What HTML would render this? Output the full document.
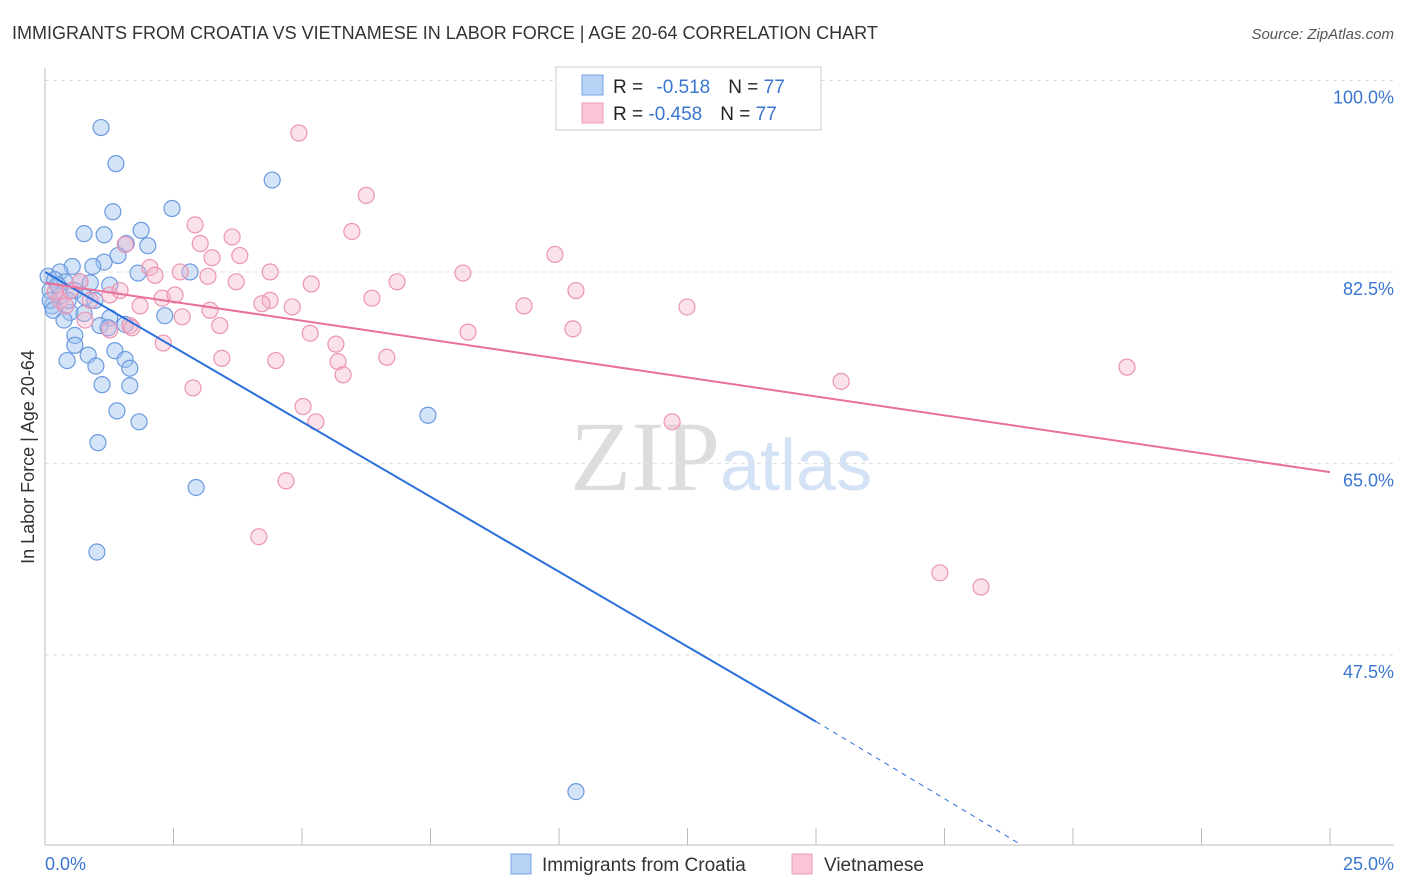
<!DOCTYPE html>
<html><head><meta charset="utf-8"><style>
body{margin:0;background:#fff;font-family:"Liberation Sans",sans-serif}
</style></head><body>
<svg id="c" width="1406" height="892" style="display:block">
<text x="12" y="39" font-size="18" fill="#333">IMMIGRANTS FROM CROATIA VS VIETNAMESE IN LABOR FORCE | AGE 20-64 CORRELATION CHART</text>
<text x="1394" y="39" font-size="15" fill="#555" font-style="italic" text-anchor="end">Source: ZipAtlas.com</text>
<text x="720" y="490" font-size="100" fill="#ddd" text-anchor="end" font-family="Liberation Serif">ZIP</text>
<text x="720" y="490" font-size="72" fill="#d4e2f5">atlas</text>
<g id="grid"></g>
<g id="axes"></g>
<g id="pts"></g>
<g id="lines"></g>
<text transform="translate(34,457) rotate(-90)" font-size="18" fill="#333" text-anchor="middle">In Labor Force | Age 20-64</text>
<text x="45" y="870" font-size="18" fill="#3a76d0">0.0%</text>
<text x="1394" y="870" font-size="18" fill="#3a76d0" text-anchor="end">25.0%</text>
<g>
<rect x="556" y="67" width="265" height="63" fill="#fff" stroke="#ccc"/>
<rect x="582" y="75" width="21" height="20" fill="#b8d2f6" stroke="#7aa6e6"/>
<rect x="582" y="103" width="21" height="20" fill="#fac6d6" stroke="#ee9ab6"/>
<text x="613" y="93" font-size="19" fill="#222">R = <tspan fill="#3a76d0" dx="8">-0.518</tspan><tspan dx="18" fill="#222">N = </tspan><tspan fill="#3a76d0">77</tspan></text>
<text x="613" y="120" font-size="19" fill="#222">R = <tspan fill="#3a76d0">-0.458</tspan><tspan dx="18" fill="#222">N = </tspan><tspan fill="#3a76d0">77</tspan></text>
</g>
<g>
<rect x="511" y="854" width="20" height="20" fill="#b8d2f6" stroke="#7aa6e6"/>
<text x="542" y="871" font-size="19" fill="#333">Immigrants from Croatia</text>
<rect x="792" y="854" width="20" height="20" fill="#fac6d6" stroke="#ee9ab6"/>
<text x="824" y="871" font-size="19" fill="#333">Vietnamese</text>
</g>
</svg>
<script>
const yTicks=[100,82.5,65,47.5];
const yTickLabels=["100.0%","82.5%","65.0%","47.5%"];
const xTicks=[0,2.5,5,7.5,10,12.5,15,17.5,20,22.5,25];
const blueX=[1.09,1.38,4.42,2.47,1.32,1.87,0.76,1.15,1.58,2.00,1.42,1.15,0.93,0.53,0.29,0.06,0.19,0.39,0.68,0.88,0.10,0.29,0.58,0.78,1.26,1.81,2.82,0.14,0.49,0.76,0.37,1.26,1.56,2.33,1.07,0.58,0.58,0.84,1.36,1.56,1.65,0.43,0.99,1.11,1.65,1.40,1.83,1.03,7.45,2.94,1.01,10.33,0.10,0.25,0.45,0.97,1.23,0.16];
const blueY=[95.7,92.4,90.9,88.3,88.0,86.3,86.0,85.9,85.1,84.9,84.0,83.4,83.0,83.0,82.5,82.1,81.8,81.6,81.6,81.5,80.8,80.3,80.8,80.2,81.3,82.4,82.5,79.4,78.8,78.7,78.1,78.3,77.7,78.5,77.6,76.7,75.8,74.9,75.3,74.5,73.7,74.4,73.9,72.2,72.1,69.8,68.8,66.9,69.4,62.8,56.9,35.0,79.9,81.3,79.9,79.9,77.4,79.0];
const pinkX=[4.94,6.25,2.92,5.97,3.64,3.02,1.56,9.92,3.79,3.25,2.04,2.63,2.14,4.38,3.17,3.72,5.18,6.85,8.13,10.33,12.49,9.32,6.36,4.38,4.22,4.81,3.21,2.28,2.53,1.85,1.65,2.67,3.40,1.26,5.16,5.66,8.23,10.27,2.30,3.44,4.49,5.70,6.65,5.80,2.88,5.02,5.27,12.20,15.49,21.05,4.69,4.16,17.41,18.21,1.26,0.88,0.49,0.68,1.46,0.29,0.78,1.69,0.2,0.4];
const pinkY=[95.2,89.5,86.8,86.2,85.7,85.1,85.0,84.1,84.0,83.8,82.9,82.5,82.2,82.5,82.1,81.6,81.4,81.6,82.4,80.8,79.3,79.4,80.1,79.9,79.6,79.3,79.0,80.1,80.4,79.4,77.6,78.4,77.6,77.2,76.9,75.9,77.0,77.3,76.0,74.6,74.4,74.3,74.7,73.1,71.9,70.2,68.8,68.8,72.5,73.8,63.4,58.3,55.0,53.7,80.4,79.9,80.8,81.6,80.8,79.9,78.1,77.4,80.7,79.4];
const blueTrend=[82.5,41.4,30.2]; // at x=0, 15, 18.97
const blueTrendX=[0,15,18.97];
const pinkTrend=[81.5,64.2];
const pinkTrendX=[0,25];
const X=v=>45+v*51.4, Y=v=>80.5+(100-v)*10.94;
const NS="http://www.w3.org/2000/svg";
function mk(t,a,p){const e=document.createElementNS(NS,t);for(const k in a)e.setAttribute(k,a[k]);p.appendChild(e);return e;}
const grid=document.getElementById('grid'),axes=document.getElementById('axes'),pts=document.getElementById('pts'),lines=document.getElementById('lines');
yTicks.forEach((t,i)=>{
 const l=mk('line',{x1:45,x2:1394,y1:Y(t),y2:Y(t),stroke:'#ddd','stroke-dasharray':'4,4'},grid);
 
 
 const tx=mk('text',{x:1394,y:Y(t)+23,'font-size':18,fill:'#3a76d0','text-anchor':'end'},axes);
 tx.textContent=yTickLabels[i];
 
 
});
const ax=mk('line',{x1:45,x2:45,y1:68,y2:845,stroke:'#bbb'},axes);


const bx=mk('line',{x1:45,x2:1394,y1:845,y2:845,stroke:'#bbb'},axes);


xTicks.forEach(t=>{const l=mk('line',{x1:X(t),x2:X(t),y1:828,y2:845,stroke:'#bbb'},axes);
 
 });
blueX.forEach((v,i)=>{const c=mk('circle',{cx:X(v),cy:Y(blueY[i]),r:8,fill:'rgba(160,196,240,0.45)',stroke:'#6a9ae0','stroke-width':1.2},pts);
 
 });
pinkX.forEach((v,i)=>{const c=mk('circle',{cx:X(v),cy:Y(pinkY[i]),r:8,fill:'rgba(246,180,202,0.4)',stroke:'#ec94b2','stroke-width':1.2},pts);
 
 });
const b1=mk('line',{x1:X(blueTrendX[0]),y1:Y(blueTrend[0]),x2:X(blueTrendX[1]),y2:Y(blueTrend[1]),stroke:'#2a6fdb','stroke-width':2},lines);


const b2=mk('line',{x1:X(blueTrendX[1]),y1:Y(blueTrend[1]),x2:X(blueTrendX[2]),y2:Y(blueTrend[2]),stroke:'#2a6fdb','stroke-width':1,'stroke-dasharray':'5,5'},lines);


const p1=mk('line',{x1:X(pinkTrendX[0]),y1:Y(pinkTrend[0]),x2:X(pinkTrendX[1]),y2:Y(pinkTrend[1]),stroke:'#e8709a','stroke-width':2},lines);


</script>
</body></html>
